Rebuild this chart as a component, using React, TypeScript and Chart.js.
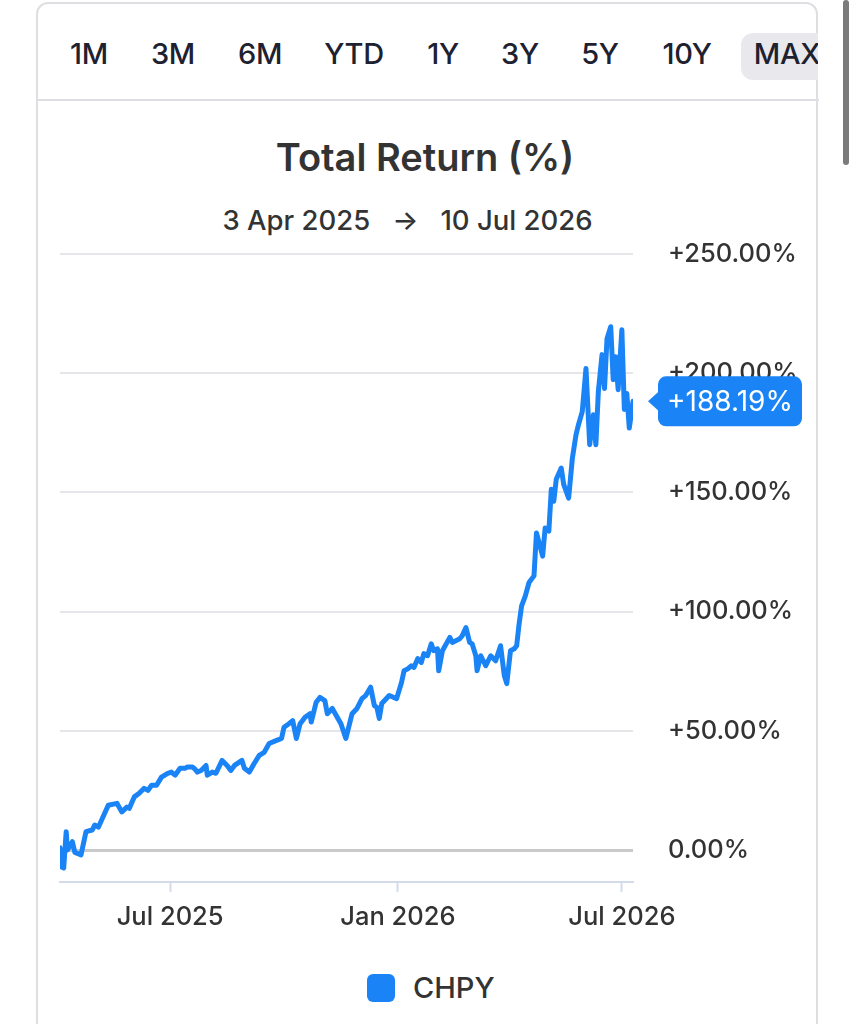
import React, { useEffect, useRef } from "react";
import { Chart, registerables } from "chart.js";

Chart.register(...registerables);

// ---- data ----
const tabLabels = ["1M", "3M", "6M", "YTD", "1Y", "3Y", "5Y", "10Y", "MAX"];
const tabCenters = [89, 173, 260, 354, 443, 520, 600, 687, 787];
const activeTab = "MAX";
const chartTitle = "Total Return (%)";
const rangeStart = "3 Apr 2025";
const rangeEnd = "10 Jul 2026";
const seriesName = "CHPY";

// x axis: days since 3 Apr 2025
const xMaxDay = 463;
const xTickDays = [89, 273, 454];
const xTickLabels = ["Jul 2025", "Jan 2026", "Jul 2026"];
const yTickValues = [0, 50, 100, 150, 200, 250];

const dayOffsets = [
  0, 1, 3, 5, 6, 10, 12, 17, 21, 26,
  28, 31, 39, 46, 50, 54, 56, 60, 64, 68,
  71, 74, 78, 82, 87, 90, 93, 97, 101, 103,
  107, 109, 111, 114, 118, 119, 123, 126, 131, 135,
  138, 141, 147, 149, 153, 157, 161, 165, 169, 175,
  179, 181, 185, 188, 191, 194, 198, 202, 203, 207,
  210, 214, 216, 220, 227, 231, 236, 240, 244, 247,
  251, 254, 256, 258, 260, 266, 272, 276, 278, 281,
  284, 286, 289, 292, 294, 297, 300, 302, 305, 306,
  309, 315, 317, 323, 325, 328, 331, 333, 336, 337,
  340, 344, 348, 352, 356, 359, 361, 364, 367, 369,
  371, 373, 376, 379, 383, 385, 390, 392, 395, 397,
  399, 401, 405, 407, 411, 414, 417, 419, 422, 425,
  428, 431, 433, 435, 438, 440, 442, 445, 447, 449,
  451, 454, 456, 458, 460, 463,
];

const totalReturns = [
  1.0, -7.0, -7.5, 7.7, 0.0, 3.5, -1.0, -2.0, 7.7, 8.4,
  10.5, 9.6, 18.8, 19.6, 16.0, 18.0, 17.5, 22.3, 23.8, 25.9,
  25.0, 27.2, 27.2, 30.6, 32.2, 32.7, 31.4, 34.3, 34.3, 34.8,
  34.8, 34.0, 32.7, 33.4, 35.5, 31.4, 32.7, 32.2, 37.6, 35.5,
  33.4, 35.5, 37.6, 34.3, 32.7, 36.4, 39.7, 41.0, 44.7, 46.0,
  46.8, 51.5, 53.0, 54.3, 46.8, 53.0, 55.7, 57.2, 53.7, 62.0,
  64.0, 62.7, 57.2, 59.4, 53.0, 46.8, 57.2, 59.4, 63.5, 64.8,
  68.3, 60.6, 59.9, 55.2, 61.5, 64.8, 63.5, 70.4, 75.2, 76.0,
  77.3, 76.6, 80.3, 78.7, 82.4, 81.5, 86.5, 83.6, 84.4, 75.2,
  83.6, 89.2, 87.1, 88.6, 89.9, 93.3, 87.1, 86.5, 81.5, 75.2,
  81.5, 77.3, 81.5, 79.4, 85.7, 73.2, 69.8, 83.6, 84.4, 85.7,
  95.0, 102.4, 106.6, 112.2, 115.0, 133.0, 123.3, 135.1, 133.8, 151.3,
  146.3, 155.5, 160.2, 153.4, 147.6, 164.3, 174.3, 178.5, 183.9, 202.0,
  170.0, 182.6, 170.0, 192.3, 207.8, 193.6, 214.5, 219.5, 197.3, 206.9,
  193.1, 218.2, 184.8, 191.5, 177.0, 188.19,
];

const BLUE = "#1a84f6";
const FONT = "Inter, 'Noto Sans', sans-serif";

function fmtPct(v: number) {
  return (v > 0 ? "+" : "") + v.toFixed(2) + "%";
}

const calloutPlugin = {
  id: "lastValueCallout",
  afterDraw(chart: any) {
    const { ctx, chartArea, scales } = chart;
    const last = totalReturns[totalReturns.length - 1];
    const yy = scales.y.getPixelForValue(last);
    const x0 = chartArea.right + 25;
    const w = 144;
    const h = 50;
    ctx.save();
    ctx.fillStyle = BLUE;
    ctx.beginPath();
    ctx.roundRect(x0, yy - h / 2, w, h, 8);
    ctx.fill();
    ctx.beginPath();
    ctx.moveTo(x0 + 1, yy - 10);
    ctx.lineTo(x0 - 10, yy);
    ctx.lineTo(x0 + 1, yy + 10);
    ctx.closePath();
    ctx.fill();
    ctx.fillStyle = "#ffffff";
    ctx.font = `400 28px ${FONT}`;
    ctx.textAlign = "center";
    ctx.textBaseline = "middle";
    ctx.fillText(fmtPct(last), x0 + w / 2, yy + 1);
    ctx.restore();
  },
};

function ReturnChart() {
  const ref = useRef<HTMLCanvasElement | null>(null);
  useEffect(() => {
    if (!ref.current) return;
    const data = dayOffsets.map((d, i) => ({ x: d, y: totalReturns[i] }));
    const chart = new Chart(ref.current, {
      type: "line",
      data: {
        datasets: [
          {
            label: seriesName,
            data,
            borderColor: BLUE,
            backgroundColor: BLUE,
            borderWidth: 5,
            pointRadius: 0,
            tension: 0,
            borderJoinStyle: "round",
            borderCapStyle: "round",
          },
        ],
      },
      options: {
        animation: false,
        responsive: false,
        maintainAspectRatio: false,
        layout: { padding: { left: 20, top: 18, right: 0, bottom: 0 } },
        plugins: { legend: { display: false }, tooltip: { enabled: false } },
        scales: {
          x: {
            type: "linear",
            min: 0,
            max: xMaxDay,
            afterBuildTicks: (s: any) => {
              s.ticks = xTickDays.map((v) => ({ value: v }));
            },
            afterFit: (s: any) => {
              s.height = 64;
            },
            ticks: {
              autoSkip: false,
              maxRotation: 0,
              padding: 10,
              color: "#333333",
              font: { family: FONT, size: 25.5, weight: "500" },
              callback: (v: any) => {
                const i = xTickDays.indexOf(Number(v));
                return i >= 0 ? xTickLabels[i] : "";
              },
            },
            grid: {
              drawOnChartArea: false,
              drawTicks: true,
              tickLength: 10,
              tickColor: "#d3dbe8",
              tickWidth: 2,
            },
            border: { color: "#d3dbe8", width: 2 },
          },
          y: {
            position: "right",
            min: -13.4,
            max: 250,
            afterBuildTicks: (s: any) => {
              s.ticks = yTickValues.map((v) => ({ value: v }));
            },
            afterFit: (s: any) => {
              s.width = 187;
            },
            ticks: {
              padding: 0,
              color: "#333333",
              font: { family: FONT, size: 25.5, weight: "500" },
              callback: (v: any) => fmtPct(Number(v)),
            },
            grid: {
              drawTicks: true,
              tickLength: 35,
              tickColor: "rgba(0,0,0,0)",
              color: (c: any) => (c.tick && c.tick.value === 0 ? "#cacaca" : "#e6e6ea"),
              lineWidth: (c: any) => (c.tick && c.tick.value === 0 ? 3 : 2),
            },
            border: { display: false },
          },
        },
      },
      plugins: [calloutPlugin],
    } as any);
    return () => chart.destroy();
  }, []);
  return (
    <canvas
      ref={ref}
      width={780}
      height={710}
      style={{ position: "absolute", left: 40, top: 236, width: 780, height: 710 }}
    />
  );
}

export default function App() {
  return (
    <div style={{ position: "relative", width: 856, height: 1024, overflow: "hidden", background: "#fff", fontFamily: FONT }}>
      <style>{`body{margin:0;overflow:hidden;background:#fff}`}</style>
      {/* card */}
      <div
        style={{
          position: "absolute",
          left: 36,
          top: 2,
          width: 782,
          height: 1100,
          border: "2px solid #dedee3",
          borderRadius: 12,
          boxSizing: "border-box",
        }}
      />
      {/* tab row */}
      <div style={{ position: "absolute", left: 38, top: 4, width: 780, height: 96, overflow: "hidden" }}>
        <div
          style={{
            position: "absolute",
            left: 741 - 38,
            top: 33 - 4,
            width: 100,
            height: 47,
            borderRadius: 12,
            background: "#e9e9ed",
          }}
        />
        {tabLabels.map((t, i) => (
          <div
            key={t}
            style={{
              position: "absolute",
              left: tabCenters[i] - 38 - 50,
              width: 100,
              top: 50 - 18,
              height: 36,
              lineHeight: "36px",
              textAlign: "center",
              fontSize: 29,
              fontWeight: t === activeTab ? 500 : 500,
              color: "#1d2130",
              letterSpacing: -0.3,
            }}
          >
            {t}
          </div>
        ))}
      </div>
      <div style={{ position: "absolute", left: 37, top: 99, width: 782, height: 2, background: "#dedee3" }} />
      {/* title */}
      <div
        style={{
          position: "absolute",
          left: 0,
          width: 850,
          top: 134,
          textAlign: "center",
          fontSize: 38,
          fontWeight: 600,
          color: "#333333",
          lineHeight: "46px",
        }}
      >
        {chartTitle}
      </div>
      <div
        style={{
          position: "absolute",
          left: 0,
          width: 815,
          top: 203,
          textAlign: "center",
          fontSize: 27.5,
          fontWeight: 500,
          color: "#333333",
          lineHeight: "34px",
          whiteSpace: "pre",
        }}
      >
        {rangeStart + "   \u2192   " + rangeEnd}
      </div>
      <ReturnChart />
      {/* legend */}
      <div style={{ position: "absolute", left: 367, top: 974, width: 28, height: 28, borderRadius: 6, background: BLUE }} />
      <div
        style={{
          position: "absolute",
          left: 413,
          top: 971,
          fontSize: 29,
          fontWeight: 500,
          color: "#333333",
          lineHeight: "34px",
        }}
      >
        {seriesName}
      </div>
      {/* scroll indicator */}
      <div style={{ position: "absolute", left: 843, top: 0, width: 6, height: 165, borderRadius: 3, background: "#7b7b7b" }} />
    </div>
  );
}
